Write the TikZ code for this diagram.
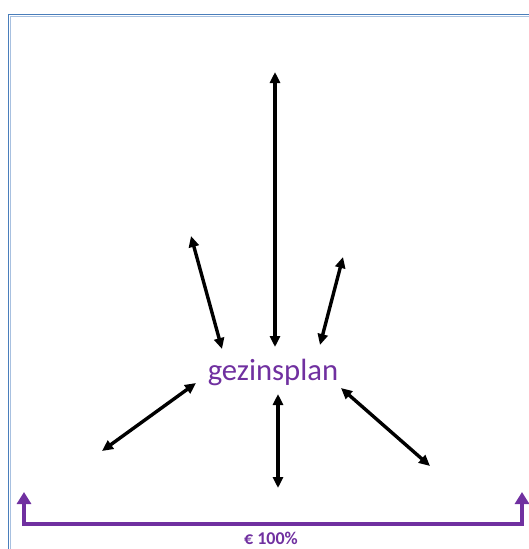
\documentclass[tikz,border=0pt]{standalone}
\usepackage{fontspec}
\setmainfont{Carlito}
\usetikzlibrary{arrows.meta}
\definecolor{framedark}{HTML}{4A7EBB}
\definecolor{framelight}{HTML}{A7C0E0}
\definecolor{plum}{HTML}{7030A0}
\tikzset{
  dblarrow/.style={black, line width=3.4pt, {Triangle[length=11pt,width=10pt]}-{Triangle[length=11pt,width=10pt]}},
  bracketline/.style={plum, line width=4pt, {Triangle[length=12pt,width=14pt]}-{Triangle[length=12pt,width=14pt]}},
}
\begin{document}
\begin{tikzpicture}[x=1pt,y=-1pt]
\useasboundingbox (0,0) rectangle (529,549);
% frame
\draw[framedark, line width=1.8pt] (8.5,549) -- (8.5,14.5) -- (529,14.5);
\draw[framelight, line width=1pt] (10.2,549) -- (10.2,16.2) -- (529,16.2);
% centre text
\node[font=\fontsize{30.7}{36}\selectfont, text=plum, inner sep=0pt] (plan) at (273,372) {gezinsplan};
% arrow end points
\coordinate (t1) at (275,72);   \coordinate (t2) at (275,347);
\coordinate (ul1) at (191,236); \coordinate (ul2) at (222,349);
\coordinate (ur1) at (343,257); \coordinate (ur2) at (320,345);
\coordinate (ll1) at (196,383); \coordinate (ll2) at (102,451);
\coordinate (lr1) at (341,388); \coordinate (lr2) at (430,466);
\coordinate (b1) at (278,394);  \coordinate (b2) at (278,488);
\draw[dblarrow] (t1) -- (t2);
\draw[dblarrow] (ul1) -- (ul2);
\draw[dblarrow] (ur1) -- (ur2);
\draw[dblarrow] (ll1) -- (ll2);
\draw[dblarrow] (lr1) -- (lr2);
\draw[dblarrow] (b1) -- (b2);
% purple bracket
\coordinate (bl) at (24,492); \coordinate (br) at (522,492);
\draw[bracketline] (bl) -- (24,524) -- (522,524) -- (br);
\node[font=\bfseries\fontsize{18}{22}\selectfont, text=plum, inner sep=0pt] (pct) at (271,538.5) {€ 100\%};
\end{tikzpicture}
\end{document}
